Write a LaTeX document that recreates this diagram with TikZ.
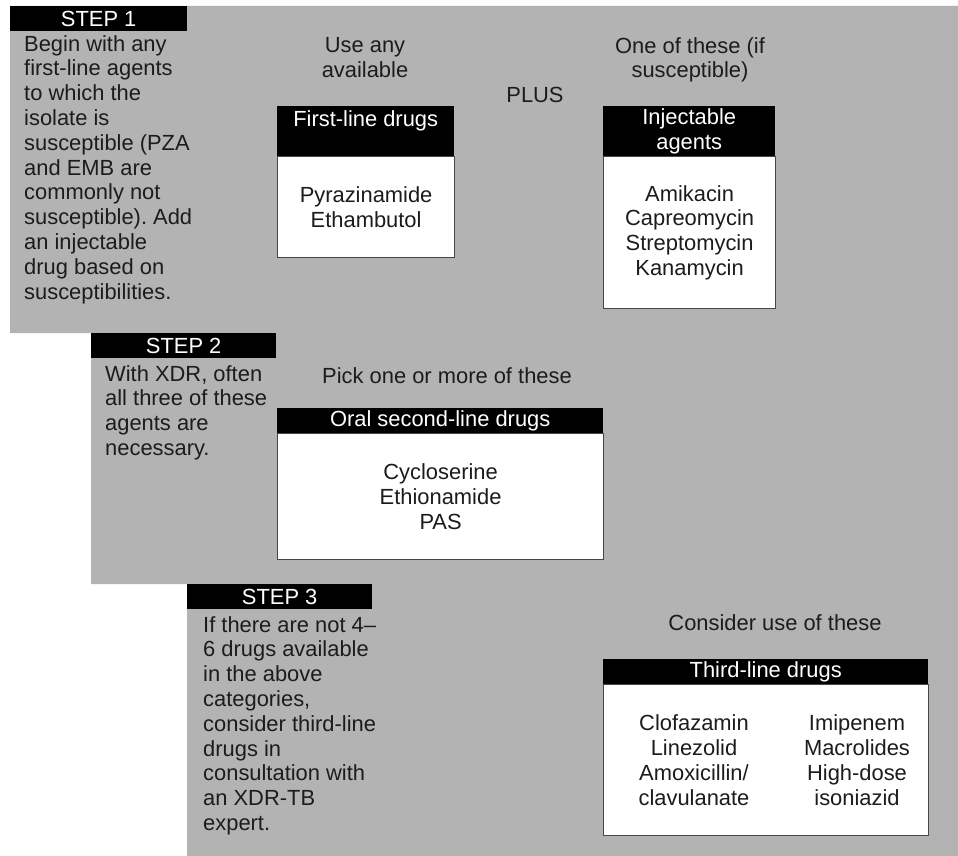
\documentclass[tikz,border=0pt]{standalone}
\usepackage{fontspec}
\setmainfont{Liberation Sans}
\usepackage{tikz}
\usetikzlibrary{positioning}

\definecolor{panelgray}{RGB}{179,179,179}
\definecolor{inkgray}{RGB}{28,28,28}
\definecolor{framegray}{RGB}{70,70,70}
\frenchspacing

\begin{document}
\begin{tikzpicture}[
		    x=1pt, y=-1pt,
		    every node/.style={inner sep=0pt, text=inkgray, font=\fontsize{21.9}{24.8}\selectfont},
		    stepbar/.style={fill=black, text=white, minimum width=#1, minimum height=25pt, anchor=north west},
		    steptext/.style={anchor=north west, align=left},
		    hdr/.style={fill=black, text=white, minimum width=#1, anchor=north west, align=center},
		    drugbox/.style={draw=framegray, line width=1.2pt, fill=white, minimum width=#1, anchor=north west, align=center},
		    note/.style={anchor=north, align=center}
		]
		    \useasboundingbox (0,0) rectangle (958,856);
		    \fill[panelgray] (10,6) -- (958,6) -- (958,856) -- (187,856) -- (187,584)
		        -- (91,584) -- (91,333) -- (10,333) -- cycle;

		    \node[stepbar=177pt] (step1) at (10,6) {STEP 1};
		    \node[stepbar=185pt] (step2) at (91,333) {STEP 2};
		    \node[stepbar=185pt] (step3) at (187,584) {STEP 3};

		    \node[steptext] (step1text) at (24,35) {Begin with any\\first-line agents\\to which the\\isolate is\\susceptible (PZA\\and EMB are\\commonly not\\susceptible). Add\\an injectable\\drug based on\\susceptibilities.};
		    \node[steptext] (step2text) at (105,365) {With XDR, often\\all three of these\\agents are\\necessary.};
		    \node[steptext] (step3text) at (203,616) {If there are not 4–\\6 drugs available\\in the above\\categories,\\consider third-line\\drugs in\\consultation with\\an XDR-TB\\expert.};

		    \node[note] (useany) at (365,37) {Use any\\available};
		    \node[note] (plus) at (535,87) {PLUS};
		    \node[note] (oneof) at (690,37) {One of these (if\\susceptible)};
		    \node[note] (pickone) at (447,367) {Pick one or more of these};
		    \node[note] (consider) at (775,614) {Consider use of these};

		    \node[drugbox=177pt, minimum height=101pt] (first) at (277,156) {Pyrazinamide\\Ethambutol};
		    \node[hdr=177pt, minimum height=50pt] (firsthdr) at (277,106) {First-line drugs\\\mbox{}};

		    \node[drugbox=172pt, minimum height=152pt] (inject) at (603,156) {Amikacin\\Capreomycin\\Streptomycin\\Kanamycin};
		    \node[hdr=172pt, minimum height=50pt] (injecthdr) at (603,106) {Injectable\\agents};

		    \node[drugbox=326pt, minimum height=126pt] (oral) at (277,433) {Cycloserine\\Ethionamide\\PAS};
		    \node[hdr=326pt, minimum height=25pt] (oralhdr) at (277,408) {Oral second-line drugs};

		    \node[drugbox=325pt, minimum height=151pt] (third) at (603,684) {};
		    \node[hdr=325pt, minimum height=25pt] (thirdhdr) at (603,659) {Third-line drugs};
		    \node[align=center] (thirdleft) at (694,760) {Clofazamin\\Linezolid\\Amoxicillin/\\clavulanate};
		    \node[align=center] (thirdright) at (857,760) {Imipenem\\Macrolides\\High-dose\\isoniazid};
		\end{tikzpicture}
\end{document}
